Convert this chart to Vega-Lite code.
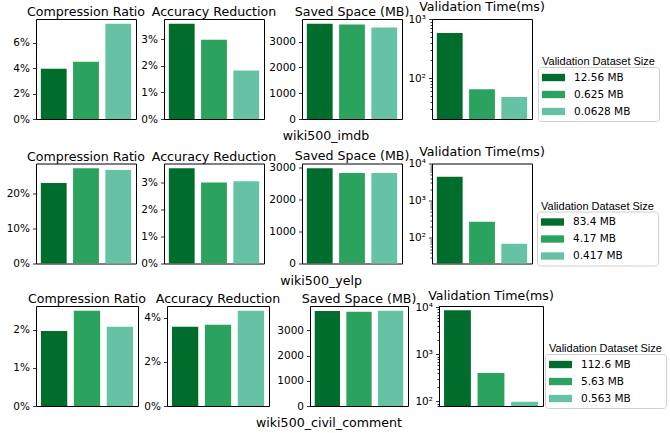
{
  "$schema": "https://vega.github.io/schema/vega-lite/v6.json",
  "padding": {"left": 5, "top": 0, "right": 5, "bottom": 0},
  "background": "white",
  "config": {
    "font": "DejaVu Sans",
    "view": {"stroke": "black", "strokeWidth": 1},
    "axis": {"domain": false, "grid": false, "tickColor": "black", "tickSize": 3.5, "tickWidth": 0.8, "labelPadding": 3, "labelFont": "DejaVu Sans", "labelFontSize": 10.5, "labelColor": "black", "title": null},
    "title": {"font": "DejaVu Sans", "fontSize": 12.6, "fontWeight": "normal", "color": "black", "offset": 0.01},
    "legend": {"orient": "none", "titleFont": "Liberation Sans", "titleFontSize": 11, "titleFontWeight": "normal", "titleColor": "black", "labelFont": "DejaVu Sans", "labelFontSize": 10.5, "labelColor": "black", "symbolType": "M-1,-0.32H1V0.32H-1Z", "symbolSize": 529, "symbolStrokeWidth": 0, "labelOffset": 9, "strokeColor": "#d0d0d0", "cornerRadius": 3, "padding": 4, "fillColor": "white", "rowPadding": -8, "titlePadding": -16}
  },
  "datasets": {
    "imdb": [
      {"size": "12.56 MB", "cr": 0.0394, "ar": 0.0358, "ss": 3696, "vt": 579},
      {"size": "0.625 MB", "cr": 0.0449, "ar": 0.0298, "ss": 3670, "vt": 65.2},
      {"size": "0.0628 MB", "cr": 0.0748, "ar": 0.0182, "ss": 3553, "vt": 48.2}
    ],
    "yelp": [
      {"size": "83.4 MB", "cr": 0.230, "ar": 0.0352, "ss": 2978, "vt": 4390},
      {"size": "4.17 MB", "cr": 0.272, "ar": 0.0300, "ss": 2831, "vt": 272},
      {"size": "0.417 MB", "cr": 0.267, "ar": 0.0304, "ss": 2831, "vt": 69}
    ],
    "civil": [
      {"size": "112.6 MB", "cr": 0.0197, "ar": 0.0359, "ss": 3775, "vt": 8630},
      {"size": "5.63 MB", "cr": 0.0250, "ar": 0.0368, "ss": 3745, "vt": 400},
      {"size": "0.563 MB", "cr": 0.0208, "ar": 0.0431, "ss": 3780, "vt": 98.5}
    ]
  },
  "resolve": {"scale": {"color": "independent"}},
  "spacing": 1.5,
  "vconcat": [
    {
      "data": {"name": "imdb"},
      "title": {"text": "wiki500_imdb", "orient": "bottom", "anchor": "middle", "frame": "bounds", "offset": 5, "dx": -7},
      "spacing": -9,
      "hconcat": [
        {"width": 100, "height": 100, "title": "Compression Ratio", "mark": "bar",
         "encoding": {
           "x": {"field": "size", "type": "nominal", "sort": ["12.56 MB", "0.625 MB", "0.0628 MB"], "axis": null, "scale": {"paddingInner": 0.2, "paddingOuter": 0.15}},
           "y": {"field": "cr", "type": "quantitative", "scale": {"domain": [0, 0.0785], "nice": false}, "axis": {"format": ".0%", "minExtent": 29}},
           "color": {"field": "size", "type": "nominal", "scale": {"domain": ["12.56 MB", "0.625 MB", "0.0628 MB"], "range": ["#006d2c", "#2ca25f", "#66c2a4"]}, "legend": {"title": "Validation Dataset Size", "legendX": 502, "legendY": 48, "encode": {"title": {"update": {"dy": {"value": -15}}}}}}
         }},
        {"width": 100, "height": 100, "title": "Accuracy Reduction", "mark": "bar",
         "encoding": {
           "x": {"field": "size", "type": "nominal", "sort": ["12.56 MB", "0.625 MB", "0.0628 MB"], "axis": null, "scale": {"paddingInner": 0.2, "paddingOuter": 0.15}},
           "y": {"field": "ar", "type": "quantitative", "scale": {"domain": [0, 0.0376], "nice": false}, "axis": {"format": ".0%", "minExtent": 26}},
           "color": {"field": "size", "type": "nominal", "scale": {"domain": ["12.56 MB", "0.625 MB", "0.0628 MB"], "range": ["#006d2c", "#2ca25f", "#66c2a4"]}, "legend": {"title": "Validation Dataset Size", "legendX": 502, "legendY": 48, "encode": {"title": {"update": {"dy": {"value": -15}}}}}}
         }},
        {"width": 100, "height": 100, "title": "Saved Space (MB)", "mark": "bar",
         "encoding": {
           "x": {"field": "size", "type": "nominal", "sort": ["12.56 MB", "0.625 MB", "0.0628 MB"], "axis": null, "scale": {"paddingInner": 0.2, "paddingOuter": 0.15}},
           "y": {"field": "ss", "type": "quantitative", "scale": {"domain": [0, 3881], "nice": false}, "axis": {"format": "d", "minExtent": 33}},
           "color": {"field": "size", "type": "nominal", "scale": {"domain": ["12.56 MB", "0.625 MB", "0.0628 MB"], "range": ["#006d2c", "#2ca25f", "#66c2a4"]}, "legend": {"title": "Validation Dataset Size", "legendX": 502, "legendY": 48, "encode": {"title": {"update": {"dy": {"value": -15}}}}}}
         }},
        {"width": 100, "height": 100, "title": "Validation Time(ms)", "mark": {"type": "bar", "clip": true},
         "encoding": {
           "x": {"field": "size", "type": "nominal", "sort": ["12.56 MB", "0.625 MB", "0.0628 MB"], "axis": null, "scale": {"paddingInner": 0.2, "paddingOuter": 0.15}},
           "y": {"field": "vt", "type": "quantitative", "scale": {"type": "log", "domain": [20.5, 1000], "nice": false},
                 "axis": {"minExtent": 30, "values": [30, 40, 50, 60, 70, 80, 90, 100, 200, 300, 400, 500, 600, 700, 800, 900, 1000], "labelOverlap": false, "labelFlush": false,
                          "labelExpr": "datum.value == 100 ? '10²' : datum.value == 1000 ? '10³' : datum.value == 10000 ? '10⁴' : ''",
                          "tickSize": {"condition": {"test": "datum.value == 100 || datum.value == 1000 || datum.value == 10000", "value": 3.5}, "value": 2}}},
           "y2": {"datum": 1},
           "color": {"field": "size", "type": "nominal", "scale": {"domain": ["12.56 MB", "0.625 MB", "0.0628 MB"], "range": ["#006d2c", "#2ca25f", "#66c2a4"]}, "legend": {"title": "Validation Dataset Size", "legendX": 502, "legendY": 48, "encode": {"title": {"update": {"dy": {"value": -15}}}}}}
         }}
      ]
    },
    {
      "data": {"name": "yelp"},
      "title": {"text": "wiki500_yelp", "orient": "bottom", "anchor": "middle", "frame": "bounds", "offset": 5, "dx": -11},
      "spacing": -9,
      "hconcat": [
        {"width": 100, "height": 100, "title": "Compression Ratio", "mark": "bar",
         "encoding": {
           "x": {"field": "size", "type": "nominal", "sort": ["83.4 MB", "4.17 MB", "0.417 MB"], "axis": null, "scale": {"paddingInner": 0.2, "paddingOuter": 0.15}},
           "y": {"field": "cr", "type": "quantitative", "scale": {"domain": [0, 0.2856], "nice": false}, "axis": {"format": ".0%", "minExtent": 29}},
           "color": {"field": "size", "type": "nominal", "scale": {"domain": ["83.4 MB", "4.17 MB", "0.417 MB"], "range": ["#006d2c", "#2ca25f", "#66c2a4"]}, "legend": {"title": "Validation Dataset Size", "legendX": 501, "legendY": 48, "encode": {"title": {"update": {"dy": {"value": -15}}}}}}
         }},
        {"width": 100, "height": 100, "title": "Accuracy Reduction", "mark": "bar",
         "encoding": {
           "x": {"field": "size", "type": "nominal", "sort": ["83.4 MB", "4.17 MB", "0.417 MB"], "axis": null, "scale": {"paddingInner": 0.2, "paddingOuter": 0.15}},
           "y": {"field": "ar", "type": "quantitative", "scale": {"domain": [0, 0.037], "nice": false}, "axis": {"format": ".0%", "minExtent": 26}},
           "color": {"field": "size", "type": "nominal", "scale": {"domain": ["83.4 MB", "4.17 MB", "0.417 MB"], "range": ["#006d2c", "#2ca25f", "#66c2a4"]}, "legend": {"title": "Validation Dataset Size", "legendX": 501, "legendY": 48, "encode": {"title": {"update": {"dy": {"value": -15}}}}}}
         }},
        {"width": 100, "height": 100, "title": "Saved Space (MB)", "mark": "bar",
         "encoding": {
           "x": {"field": "size", "type": "nominal", "sort": ["83.4 MB", "4.17 MB", "0.417 MB"], "axis": null, "scale": {"paddingInner": 0.2, "paddingOuter": 0.15}},
           "y": {"field": "ss", "type": "quantitative", "scale": {"domain": [0, 3127], "nice": false}, "axis": {"format": "d", "minExtent": 33}},
           "color": {"field": "size", "type": "nominal", "scale": {"domain": ["83.4 MB", "4.17 MB", "0.417 MB"], "range": ["#006d2c", "#2ca25f", "#66c2a4"]}, "legend": {"title": "Validation Dataset Size", "legendX": 501, "legendY": 48, "encode": {"title": {"update": {"dy": {"value": -15}}}}}}
         }},
        {"width": 100, "height": 100, "title": "Validation Time(ms)", "mark": {"type": "bar", "clip": true},
         "encoding": {
           "x": {"field": "size", "type": "nominal", "sort": ["83.4 MB", "4.17 MB", "0.417 MB"], "axis": null, "scale": {"paddingInner": 0.2, "paddingOuter": 0.15}},
           "y": {"field": "vt", "type": "quantitative", "scale": {"type": "log", "domain": [20.4, 10000], "nice": false},
                 "axis": {"minExtent": 30, "values": [30, 40, 50, 60, 70, 80, 90, 100, 200, 300, 400, 500, 600, 700, 800, 900, 1000, 2000, 3000, 4000, 5000, 6000, 7000, 8000, 9000, 10000], "labelOverlap": false, "labelFlush": false,
                          "labelExpr": "datum.value == 100 ? '10²' : datum.value == 1000 ? '10³' : datum.value == 10000 ? '10⁴' : ''",
                          "tickSize": {"condition": {"test": "datum.value == 100 || datum.value == 1000 || datum.value == 10000", "value": 3.5}, "value": 2}}},
           "y2": {"datum": 1},
           "color": {"field": "size", "type": "nominal", "scale": {"domain": ["83.4 MB", "4.17 MB", "0.417 MB"], "range": ["#006d2c", "#2ca25f", "#66c2a4"]}, "legend": {"title": "Validation Dataset Size", "legendX": 501, "legendY": 48, "encode": {"title": {"update": {"dy": {"value": -15}}}}}}
         }}
      ]
    },
    {
      "data": {"name": "civil"},
      "title": {"text": "wiki500_civil_comment", "orient": "bottom", "anchor": "middle", "frame": "bounds", "offset": 5, "dx": -7.5},
      "spacing": -9,
      "hconcat": [
        {"width": 102, "height": 100, "title": "Compression Ratio", "mark": "bar",
         "encoding": {
           "x": {"field": "size", "type": "nominal", "sort": ["112.6 MB", "5.63 MB", "0.563 MB"], "axis": null, "scale": {"paddingInner": 0.2, "paddingOuter": 0.15}},
           "y": {"field": "cr", "type": "quantitative", "scale": {"domain": [0, 0.02625], "nice": false}, "axis": {"format": ".0%", "minExtent": 29}},
           "color": {"field": "size", "type": "nominal", "scale": {"domain": ["112.6 MB", "5.63 MB", "0.563 MB"], "range": ["#006d2c", "#2ca25f", "#66c2a4"]}, "legend": {"title": "Validation Dataset Size", "legendX": 509, "legendY": 48, "encode": {"title": {"update": {"dy": {"value": -15}}}}}}
         }},
        {"width": 102, "height": 100, "title": "Accuracy Reduction", "mark": "bar",
         "encoding": {
           "x": {"field": "size", "type": "nominal", "sort": ["112.6 MB", "5.63 MB", "0.563 MB"], "axis": null, "scale": {"paddingInner": 0.2, "paddingOuter": 0.15}},
           "y": {"field": "ar", "type": "quantitative", "scale": {"domain": [0, 0.04526], "nice": false}, "axis": {"format": ".0%", "minExtent": 28}},
           "color": {"field": "size", "type": "nominal", "scale": {"domain": ["112.6 MB", "5.63 MB", "0.563 MB"], "range": ["#006d2c", "#2ca25f", "#66c2a4"]}, "legend": {"title": "Validation Dataset Size", "legendX": 509, "legendY": 48, "encode": {"title": {"update": {"dy": {"value": -15}}}}}}
         }},
        {"width": 98, "height": 100, "title": "Saved Space (MB)", "mark": "bar",
         "encoding": {
           "x": {"field": "size", "type": "nominal", "sort": ["112.6 MB", "5.63 MB", "0.563 MB"], "axis": null, "scale": {"paddingInner": 0.2, "paddingOuter": 0.15}},
           "y": {"field": "ss", "type": "quantitative", "scale": {"domain": [0, 3969], "nice": false}, "axis": {"format": "d", "minExtent": 37}},
           "color": {"field": "size", "type": "nominal", "scale": {"domain": ["112.6 MB", "5.63 MB", "0.563 MB"], "range": ["#006d2c", "#2ca25f", "#66c2a4"]}, "legend": {"title": "Validation Dataset Size", "legendX": 509, "legendY": 48, "encode": {"title": {"update": {"dy": {"value": -15}}}}}}
         }},
        {"width": 104, "height": 100, "title": "Validation Time(ms)", "mark": {"type": "bar", "clip": true},
         "encoding": {
           "x": {"field": "size", "type": "nominal", "sort": ["112.6 MB", "5.63 MB", "0.563 MB"], "axis": null, "scale": {"paddingInner": 0.2, "paddingOuter": 0.15}},
           "y": {"field": "vt", "type": "quantitative", "scale": {"type": "log", "domain": [80, 10660], "nice": false},
                 "axis": {"minExtent": 30, "values": [80, 90, 100, 200, 300, 400, 500, 600, 700, 800, 900, 1000, 2000, 3000, 4000, 5000, 6000, 7000, 8000, 9000, 10000], "labelOverlap": false, "labelFlush": false,
                          "labelExpr": "datum.value == 100 ? '10²' : datum.value == 1000 ? '10³' : datum.value == 10000 ? '10⁴' : ''",
                          "tickSize": {"condition": {"test": "datum.value == 100 || datum.value == 1000 || datum.value == 10000", "value": 3.5}, "value": 2}}},
           "y2": {"datum": 1},
           "color": {"field": "size", "type": "nominal", "scale": {"domain": ["112.6 MB", "5.63 MB", "0.563 MB"], "range": ["#006d2c", "#2ca25f", "#66c2a4"]}, "legend": {"title": "Validation Dataset Size", "legendX": 509, "legendY": 48, "encode": {"title": {"update": {"dy": {"value": -15}}}}}}
         }}
      ]
    }
  ]
}
